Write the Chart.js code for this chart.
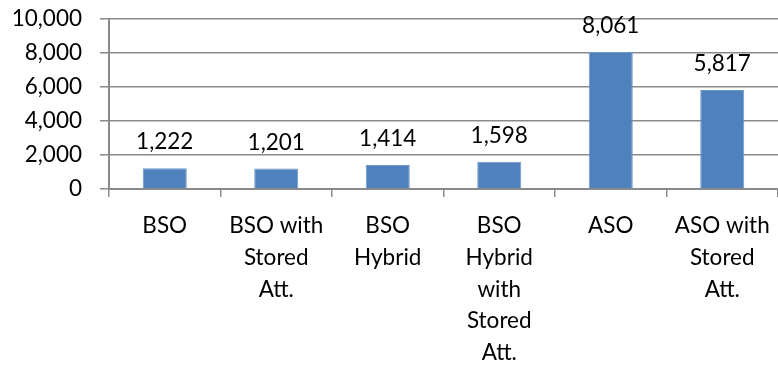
<!DOCTYPE html>
<html>
<head>
<meta charset="utf-8">
<script src="https://cdn.jsdelivr.net/npm/chart.js@4/dist/chart.umd.min.js"></script>
<style>
  html, body { margin: 0; padding: 0; background: #fff; }
  #wrap { width: 778px; height: 365px; }
</style>
</head>
<body>
<div id="wrap"><canvas id="chart" width="778" height="365"></canvas></div>
<script>
const categories = [
    ['BSO'],
    ['BSO with', 'Stored', 'Att.'],
    ['BSO', 'Hybrid'],
    ['BSO', 'Hybrid', 'with', 'Stored', 'Att.'],
    ['ASO'],
    ['ASO with', 'Stored', 'Att.']
];
const values = [1222, 1201, 1414, 1598, 8061, 5817];
const yTicks = [0, 2000, 4000, 6000, 8000, 10000];

const axisGray = '#8a8a8a';
const font = { family: 'Lato, "Open Sans", sans-serif', size: 22.5 };

// draws the number above each bar
const barValues = {
    id: 'barValues',
    afterDatasetsDraw(chart) {
        const ctx = chart.ctx;
        const meta = chart.getDatasetMeta(0);
        ctx.save();
        ctx.font = font.size + 'px ' + font.family;
        ctx.fillStyle = '#000';
        ctx.textAlign = 'center';
        ctx.textBaseline = 'alphabetic';
        meta.data.forEach(function (bar, i) {
            ctx.fillText(values[i].toLocaleString('en-US'), bar.x, bar.y - 19);
        });
        ctx.restore();
    }
};

const chart = new Chart(document.getElementById('chart'), {
    type: 'bar',
    data: {
        labels: categories,
        datasets: [{
            data: values,
            backgroundColor: '#4f81bd',
            borderColor: '#6e97c9',
            borderWidth: 1,
            categoryPercentage: 1,
            barPercentage: 0.395
        }]
    },
    options: {
        responsive: false,
        animation: false,
        layout: { padding: 0 },
        plugins: { legend: { display: false }, tooltip: { enabled: false } },
        scales: {
            x: {
                grid: { drawOnChartArea: false, drawTicks: true, tickLength: 8, color: axisGray, lineWidth: 1.5 },
                border: { color: axisGray, width: 2 },
                ticks: { color: '#000', font: Object.assign({ lineHeight: 1.41 }, font), padding: 13, maxRotation: 0, autoSkip: false },
                afterFit(scale) {
                    scale.height = 176;
                    // plot runs right up to the canvas edge
                    scale.paddingLeft = 0;
                    scale.paddingRight = 0;
                }
            },
            y: {
                min: 0,
                max: 10000,
                afterBuildTicks(scale) { scale.ticks = yTicks.map(v => ({ value: v })); },
                grid: { color: axisGray, lineWidth: 1.5, tickLength: 9 },
                border: { color: axisGray, width: 2 },
                ticks: {
                    color: '#000',
                    font: font,
                    padding: 18,
                    callback: v => v.toLocaleString('en-US')
                },
                afterFit(scale) {
                    scale.width = 109;
                    // keep the plot top at 19px regardless of label padding
                    scale.paddingTop = 19;
                    scale.paddingBottom = 0;
                }
            }
        }
    },
    plugins: [barValues]
});
</script>
</body>
</html>
